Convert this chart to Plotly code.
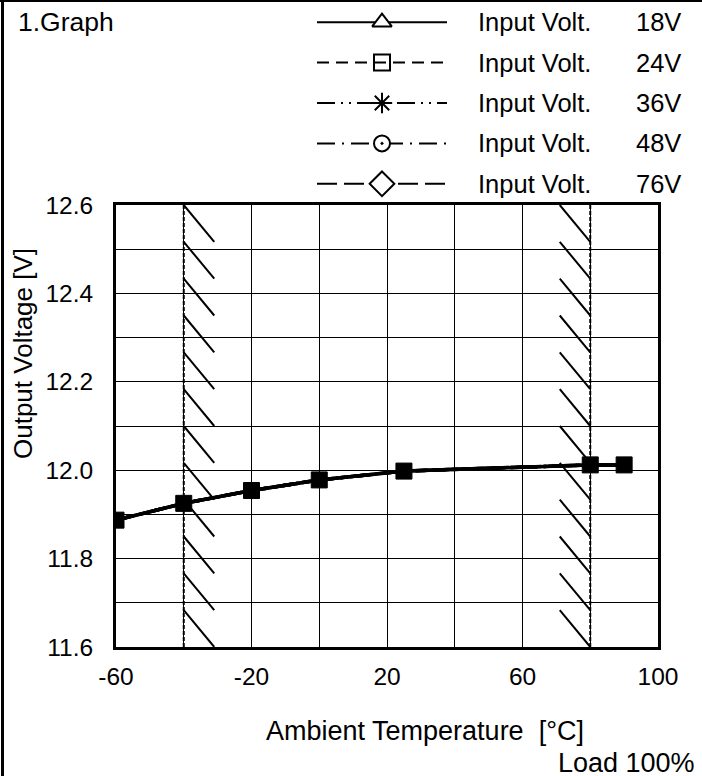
import plotly.graph_objects as go

# ---------------- data ----------------
temperature = [-60, -40, -20, 0, 25, 80, 90]
vout_18v = [11.887, 11.925, 11.954, 11.978, 11.998, 12.012, 12.012]
vout_24v = [11.887, 11.925, 11.954, 11.978, 11.998, 12.012, 12.012]
vout_36v = [11.887, 11.925, 11.954, 11.978, 11.998, 12.012, 12.012]
vout_48v = [11.887, 11.925, 11.954, 11.978, 11.998, 12.012, 12.012]
vout_76v = [11.887, 11.925, 11.954, 11.978, 11.998, 12.012, 12.012]
input_volts = ["18V", "24V", "36V", "48V", "76V"]
series_label = "Input Volt."
limit_temps = [-40, 80]          # operating temperature limits (hatched)
x_ticks = [-60, -20, 20, 60, 100]
y_ticks = [11.6, 11.8, 12.0, 12.2, 12.4, 12.6]

# ---------------- layout constants ----------------
W, H = 702, 776
L, R, T, B = 116, 658, 205, 647
FONT = "Liberation Sans, Arial, sans-serif"
X_RANGE = [-60, 100]
Y_RANGE = [11.6, 12.6]

series = [vout_18v, vout_24v, vout_36v, vout_48v, vout_76v]
dashes = ["solid", "12px,7px", "18px,6px,2px,6px,2px,6px", "18px,7px,2px,7px", "20px,7px"]
legend_symbols = ["triangle-up", "square-open", "asterisk-open", "circle-dot", "diamond"]
legend_colors = ["white", "black", "black", "white", "white"]
legend_sizes = [17, 16, 17, 16, 19]
plot_symbols = ["triangle-up", "square", "asterisk-open", "circle", "diamond"]

fig = go.Figure()

# hatching for the limit temperatures
n_hatch = 12
step = (Y_RANGE[1] - Y_RANGE[0]) / n_hatch
hatch_dx = 9
hx, hy = [], []
for i, lt in enumerate(limit_temps):
    x_a, x_b = (lt, lt + hatch_dx) if i == 0 else (lt - hatch_dx, lt)
    for k in range(n_hatch):
        y0 = Y_RANGE[1] - k * step
        hx += [x_a, x_b, None]
        hy += [y0, y0 - step, None]
fig.add_trace(go.Scatter(x=hx, y=hy, mode="lines", line=dict(color="black", width=2),
                         hoverinfo="skip", showlegend=False))
for lt in limit_temps:
    fig.add_trace(go.Scatter(x=[lt, lt], y=Y_RANGE, mode="lines",
                             line=dict(color="black", width=2, dash="4px,2px"),
                             hoverinfo="skip", showlegend=False))

# data series (24V drawn last so its squares sit on top)
order = [0, 2, 3, 4, 1]
for i in order:
    is_top = i == 1
    fig.add_trace(go.Scatter(
        x=temperature, y=series[i], mode="lines+markers",
        name=f"{series_label} {input_volts[i]}",
        line=dict(color="black", width=3.5, dash=dashes[i]),
        marker=dict(symbol=plot_symbols[i], size=16 if is_top else 10,
                    color="black", line=dict(color="black", width=1)),
        showlegend=False, xaxis="x", yaxis="y"))

# custom legend drawn on its own small axes
for i in range(5):
    fig.add_trace(go.Scatter(
        x=[0, 0.5, 1], y=[i, i, i], mode="lines",
        line=dict(color="black", width=2, dash=dashes[i]),
        hoverinfo="skip", showlegend=False, xaxis="x2", yaxis="y2"))
    fig.add_trace(go.Scatter(
        x=[0.5], y=[i], mode="markers",
        marker=dict(symbol=legend_symbols[i], size=legend_sizes[i], color=legend_colors[i],
                    line=dict(color="black", width=2)),
        hoverinfo="skip", showlegend=False, xaxis="x2", yaxis="y2"))

annotations = []
for i in range(5):
    annotations.append(dict(text=series_label, x=476 / W, xref="paper", xanchor="left",
                            y=i, yref="y2", yanchor="middle", showarrow=False,
                            font=dict(size=25.5, color="black", family=FONT)))
    annotations.append(dict(text=input_volts[i], x=683 / W, xref="paper", xanchor="right",
                            y=i, yref="y2", yanchor="middle", showarrow=False,
                            font=dict(size=25.5, color="black", family=FONT)))
annotations += [
    dict(text="1.Graph", x=16 / W, y=1 - 22 / H, xref="paper", yref="paper",
         xanchor="left", yanchor="middle", showarrow=False,
         font=dict(size=26.5, color="black", family=FONT)),
    dict(text="Output Voltage [V]", x=23 / W, y=1 - 354 / H, xref="paper", yref="paper",
         xanchor="center", yanchor="middle", textangle=-90, showarrow=False,
         font=dict(size=26, color="black", family=FONT)),
    dict(text="Ambient Temperature\u00a0\u00a0[°C]", x=425 / W, y=1 - 731 / H,
         xref="paper", yref="paper", xanchor="center", yanchor="middle", showarrow=False,
         font=dict(size=27, color="black", family=FONT)),
    dict(text="Load 100%", x=697 / W, y=1 - 763 / H, xref="paper", yref="paper",
         xanchor="right", yanchor="middle", showarrow=False,
         font=dict(size=27, color="black", family=FONT)),
]

shapes = [
    dict(type="line", xref="paper", yref="paper", x0=2.5 / W, x1=2.5 / W, y0=0, y1=1,
         line=dict(color="black", width=3)),
    dict(type="line", xref="paper", yref="paper", x0=0, x1=1, y0=1 - 1 / H, y1=1 - 1 / H,
         line=dict(color="black", width=2)),
]

fig.update_layout(
    width=W, height=H,
    margin=dict(l=0, r=0, t=0, b=0, autoexpand=False),
    paper_bgcolor="white", plot_bgcolor="white",
    font=dict(family=FONT, color="black"),
    showlegend=False,
    xaxis=dict(domain=[L / W, R / W], range=X_RANGE, tickvals=x_ticks,
               ticktext=[str(v) for v in x_ticks],
               showgrid=True, gridcolor="black", gridwidth=1,
               minor=dict(dtick=20, tick0=-60, showgrid=True, gridcolor="black", gridwidth=1),
               showline=True, mirror=True, linecolor="black", linewidth=3,
               zeroline=False, ticks="", ticklabelstandoff=6,
               tickfont=dict(size=24.5, color="black", family=FONT), automargin=False),
    yaxis=dict(domain=[1 - B / H, 1 - T / H], range=Y_RANGE, tickvals=y_ticks,
               ticktext=[f"{v:.1f}" for v in y_ticks],
               showgrid=True, gridcolor="black", gridwidth=1,
               minor=dict(dtick=0.1, tick0=11.6, showgrid=True, gridcolor="black", gridwidth=1),
               showline=True, mirror=True, linecolor="black", linewidth=3,
               zeroline=False, ticks="", ticklabelstandoff=15,
               tickfont=dict(size=24.5, color="black", family=FONT), automargin=False),
    xaxis2=dict(domain=[317 / W, 447 / W], range=[0, 1], visible=False, anchor="y2"),
    yaxis2=dict(domain=[1 - 204 / H, 1 - 2 / H], range=[4.5, -0.5], visible=False, anchor="x2"),
    annotations=annotations,
    shapes=shapes,
)

fig.write_html("out.html", config={"displayModeBar": False},
               post_script="document.body.style.margin='0';")
